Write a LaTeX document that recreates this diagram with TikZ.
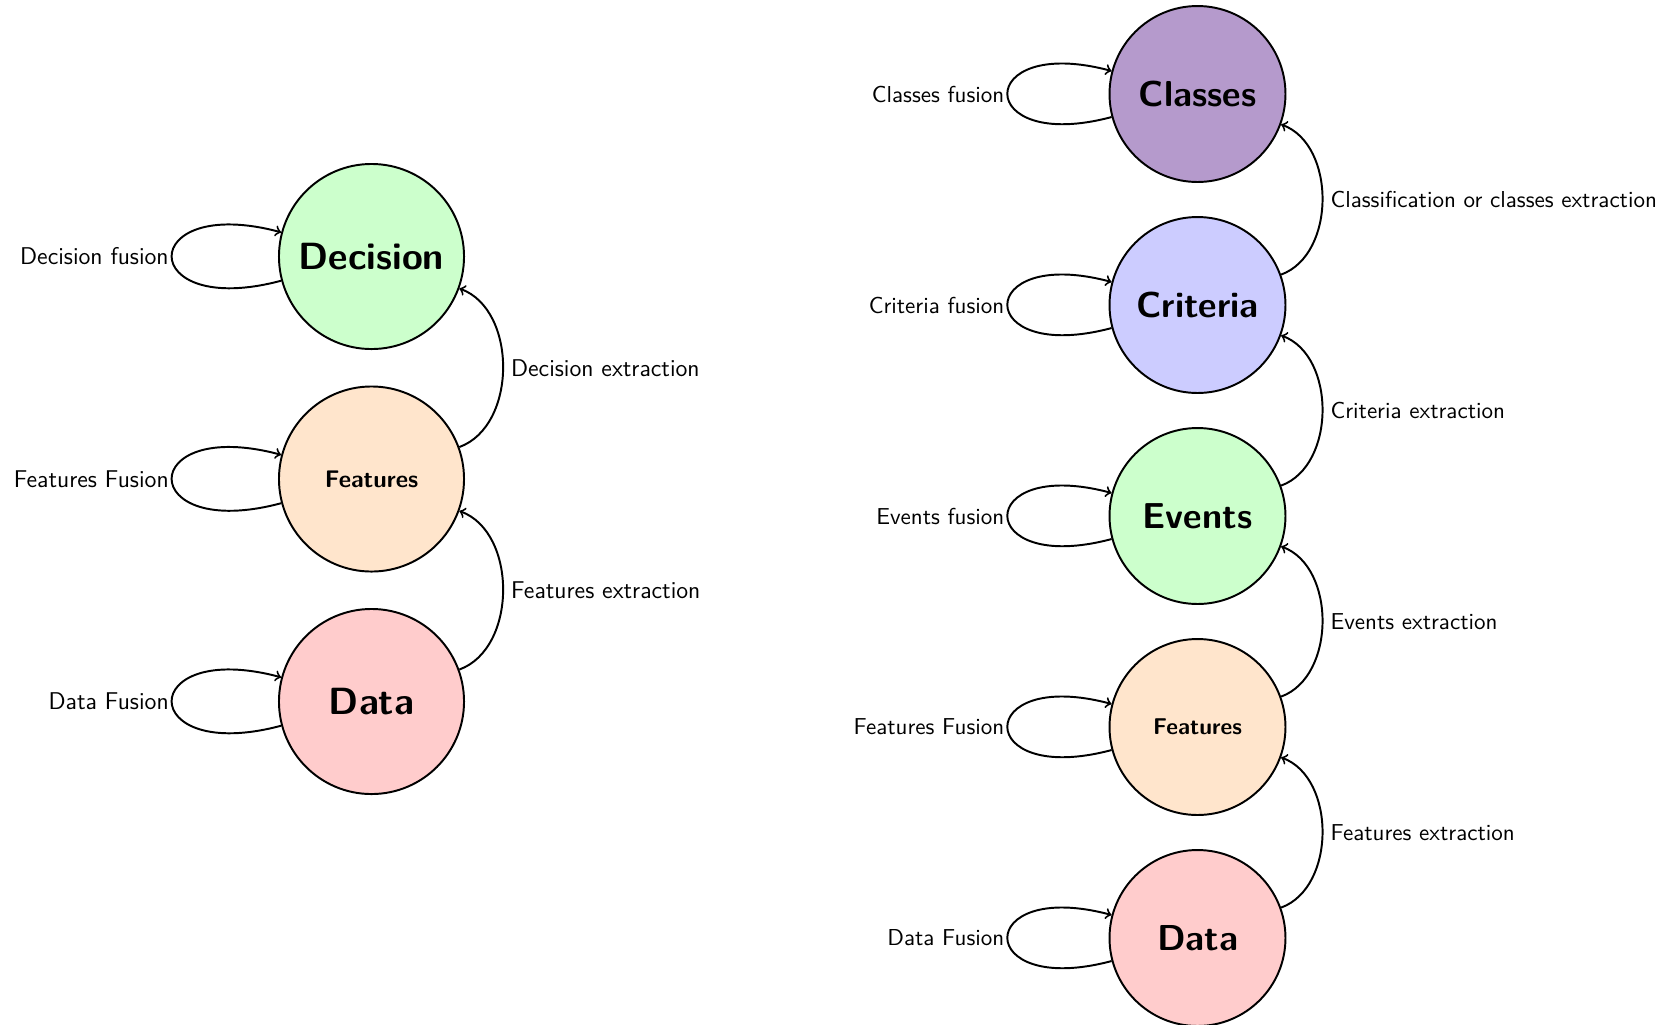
\documentclass[tikz,border=0pt]{standalone}
\usepackage{fontspec}
\definecolor{cgreen}{RGB}{204,255,204}
\definecolor{cpeach}{RGB}{255,229,204}
\definecolor{cpink}{RGB}{255,204,204}
\definecolor{cviolet}{RGB}{181,154,204}
\definecolor{cblue}{RGB}{204,204,255}
\tikzset{
  bigL/.style={circle, draw, line width=0.9pt, minimum size=85.5pt, inner sep=0pt, font=\fontsize{17.5}{20}\selectfont\sffamily\bfseries},
  smallL/.style={circle, draw, line width=0.9pt, minimum size=85.5pt, inner sep=0pt, font=\fontsize{11.1}{13}\selectfont\sffamily\bfseries},
  bigR/.style={circle, draw, line width=0.9pt, minimum size=81.3pt, inner sep=0pt, font=\fontsize{16.65}{19}\selectfont\sffamily\bfseries},
  smallR/.style={circle, draw, line width=0.9pt, minimum size=81.3pt, inner sep=0pt, font=\fontsize{10.55}{12.5}\selectfont\sffamily\bfseries},
  lblL/.style={font=\fontsize{11.2}{13}\selectfont\sffamily},
  lblR/.style={font=\fontsize{10.65}{12.5}\selectfont\sffamily},
  conn/.style={line width=0.9pt, ->},
  looplbl/.style={left, inner sep=1pt}
}
\begin{document}
\begin{tikzpicture}[x=0.462pt,y=-0.462pt, >=to]
\useasboundingbox (0,0) rectangle (1669,1024);
% left diagram
\node[bigL, fill=cgreen] (LD) at (371.5,256.5) {Decision};
\node[smallL, fill=cpeach] (LF) at (371.5,479) {Features};
\node[bigL, fill=cpink] (LA) at (371.5,701.5) {Data};
\draw[conn] (LD) to[loop left] node[looplbl, lblL] {Decision fusion} (LD);
\draw[conn] (LF) to[loop left] node[looplbl, lblL] {Features Fusion} (LF);
\draw[conn] (LA) to[loop left] node[looplbl, lblL] {Data Fusion} (LA);
\draw[conn] (LF) to[bend right=70] node[right, lblL] {Decision extraction} (LD);
\draw[conn] (LA) to[bend right=70] node[right, lblL] {Features extraction} (LF);
% right diagram
\node[bigR, fill=cviolet] (RC) at (1197.5,94) {Classes};
\node[bigR, fill=cblue] (RR) at (1197.5,305) {Criteria};
\node[bigR, fill=cgreen] (RE) at (1197.5,516) {Events};
\node[smallR, fill=cpeach] (RF) at (1197.5,727) {Features};
\node[bigR, fill=cpink] (RA) at (1197.5,938) {Data};
\draw[conn] (RC) to[loop left] node[looplbl, lblR] {Classes fusion} (RC);
\draw[conn] (RR) to[loop left] node[looplbl, lblR] {Criteria fusion} (RR);
\draw[conn] (RE) to[loop left] node[looplbl, lblR] {Events fusion} (RE);
\draw[conn] (RF) to[loop left] node[looplbl, lblR] {Features Fusion} (RF);
\draw[conn] (RA) to[loop left] node[looplbl, lblR] {Data Fusion} (RA);
\draw[conn] (RR) to[bend right=70] node[right, lblR] {Classification or classes extraction} (RC);
\draw[conn] (RE) to[bend right=70] node[right, lblR] {Criteria extraction} (RR);
\draw[conn] (RF) to[bend right=70] node[right, lblR] {Events extraction} (RE);
\draw[conn] (RA) to[bend right=70] node[right, lblR] {Features extraction} (RF);
\end{tikzpicture}
\end{document}
